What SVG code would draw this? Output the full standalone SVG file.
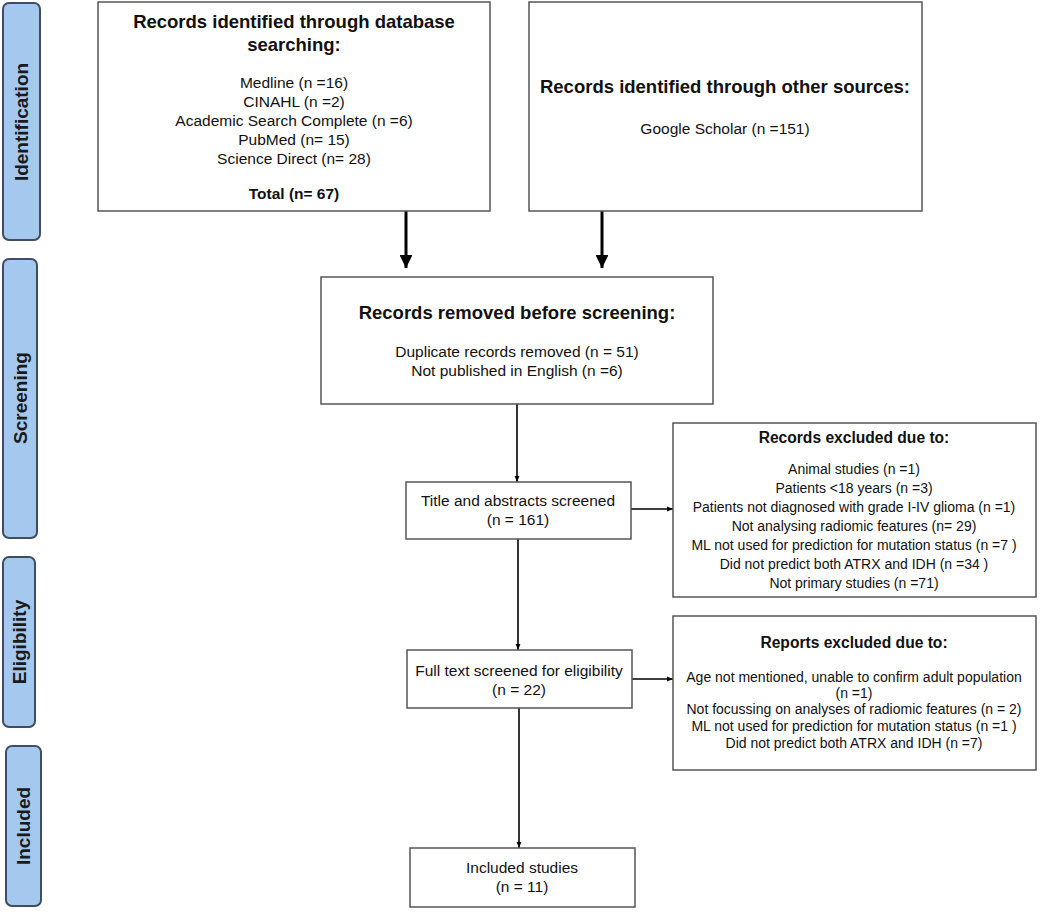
<svg xmlns="http://www.w3.org/2000/svg" width="1040" height="915" viewBox="0 0 1040 915">
<defs>
<style>
.box{fill:#fff;stroke:#555;stroke-width:1.5}
.side{fill:#a4c8ee;stroke:#3f4d5c;stroke-width:2}
.t{font-family:"Liberation Sans",Arial,sans-serif;fill:#111;text-anchor:middle}
.h{font-size:18.5px;font-weight:bold}
.h2{font-size:15.6px;font-weight:bold}
.b{font-size:15.5px}
.b2{font-size:14px}
.s{font-family:"Liberation Sans",Arial,sans-serif;font-size:19px;font-weight:bold;fill:#1a1a1a;text-anchor:middle}
.thick{stroke:#000;stroke-width:3;fill:none}
.thin{stroke:#000;stroke-width:1.6;fill:none}
</style>
<marker id="big" viewBox="0 0 10 10" refX="10" refY="5" markerWidth="4.3" markerHeight="4.3" markerUnits="strokeWidth" orient="auto"><path d="M0,0 L10,5 L0,10 Z" fill="#000"/></marker>
<marker id="sm" viewBox="0 0 10 10" refX="10" refY="5" markerWidth="4" markerHeight="4" markerUnits="strokeWidth" orient="auto"><path d="M0,1 L10,5 L0,9 Z" fill="#000"/></marker>
</defs>
<rect width="1040" height="915" fill="#fff"/>

<g id="phase-identification"><rect class="side" x="3" y="3" width="37" height="237" rx="6"/><text class="s" transform="translate(28,122) rotate(-90)">Identification</text></g>
<g id="phase-screening"><rect class="side" x="3" y="259" width="34" height="279" rx="6"/><text class="s" transform="translate(27,398) rotate(-90)">Screening</text></g>
<g id="phase-eligibility"><rect class="side" x="3" y="557" width="32" height="170" rx="6"/><text class="s" transform="translate(26,642) rotate(-90)">Eligibility</text></g>
<g id="phase-included"><rect class="side" x="6" y="746" width="35" height="160" rx="6"/><text class="s" transform="translate(30,826) rotate(-90)">Included</text></g>

<g id="connectors">
<line class="thick" x1="406" y1="211" x2="406" y2="268" marker-end="url(#big)"/>
<line class="thick" x1="602" y1="211" x2="602" y2="268" marker-end="url(#big)"/>
<line class="thin" x1="517" y1="404" x2="517" y2="482" marker-end="url(#sm)"/>
<line class="thin" x1="631" y1="509" x2="673" y2="509" marker-end="url(#sm)"/>
<line class="thin" x1="518" y1="539" x2="518" y2="650" marker-end="url(#sm)"/>
<line class="thin" x1="632" y1="679" x2="673" y2="679" marker-end="url(#sm)"/>
<line class="thin" x1="519" y1="708" x2="519" y2="848" marker-end="url(#sm)"/>
</g>

<g id="db-search">
<rect class="box" x="98" y="2" width="392" height="209"/>
<text class="t h" x="294" y="28">Records identified through database</text>
<text class="t h" x="294" y="51">searching:</text>
<text class="t b" x="294" y="88">Medline (n =16)</text>
<text class="t b" x="294" y="107">CINAHL (n =2)</text>
<text class="t b" x="294" y="126">Academic Search Complete (n =6)</text>
<text class="t b" x="294" y="145">PubMed (n= 15)</text>
<text class="t b" x="294" y="164">Science Direct (n= 28)</text>
<text class="t b" x="294" y="199" font-weight="bold">Total (n= 67)</text>
</g>

<g id="other-sources">
<rect class="box" x="529" y="2" width="393" height="209"/>
<text class="t h" x="725" y="93">Records identified through other sources:</text>
<text class="t b" x="725" y="134">Google Scholar (n =151)</text>
</g>

<g id="removed">
<rect class="box" x="321" y="277" width="392" height="127"/>
<text class="t h" x="517" y="319">Records removed before screening:</text>
<text class="t b" x="517" y="357">Duplicate records removed (n = 51)</text>
<text class="t b" x="517" y="376">Not published in English (n =6)</text>
</g>

<g id="title-abstract">
<rect class="box" x="406" y="482" width="225" height="57"/>
<text class="t b" x="518" y="506">Title and abstracts screened</text>
<text class="t b" x="518" y="525">(n = 161)</text>
</g>

<g id="records-excluded">
<rect class="box" x="673" y="423" width="363" height="174"/>
<text class="t h2" x="854" y="443">Records excluded due to:</text>
<text class="t b2" x="854" y="474">Animal studies (n =1)</text>
<text class="t b2" x="854" y="493">Patients &lt;18 years (n =3)</text>
<text class="t b2" x="854" y="512">Patients not diagnosed with grade I-IV glioma (n =1)</text>
<text class="t b2" x="854" y="531">Not analysing radiomic features (n= 29)</text>
<text class="t b2" x="854" y="550">ML not used for prediction for mutation status (n =7 )</text>
<text class="t b2" x="854" y="569">Did not predict both ATRX and IDH (n =34 )</text>
<text class="t b2" x="854" y="588">Not primary studies (n =71)</text>
</g>

<g id="full-text">
<rect class="box" x="407" y="650" width="225" height="58"/>
<text class="t b" x="519" y="676">Full text screened for eligibility</text>
<text class="t b" x="519" y="695">(n = 22)</text>
</g>

<g id="reports-excluded">
<rect class="box" x="673" y="616" width="363" height="154"/>
<text class="t h2" x="854" y="648">Reports excluded due to:</text>
<text class="t b2" x="854" y="682">Age not mentioned, unable to confirm adult population</text>
<text class="t b2" x="854" y="698">(n =1)</text>
<text class="t b2" x="854" y="714">Not focussing on analyses of radiomic features (n = 2)</text>
<text class="t b2" x="854" y="731">ML not used for prediction for mutation status (n =1 )</text>
<text class="t b2" x="854" y="748">Did not predict both ATRX and IDH (n =7)</text>
</g>

<g id="included">
<rect class="box" x="410" y="848" width="225" height="59"/>
<text class="t b" x="522" y="873">Included studies</text>
<text class="t b" x="522" y="892">(n = 11)</text>
</g>
</svg>
